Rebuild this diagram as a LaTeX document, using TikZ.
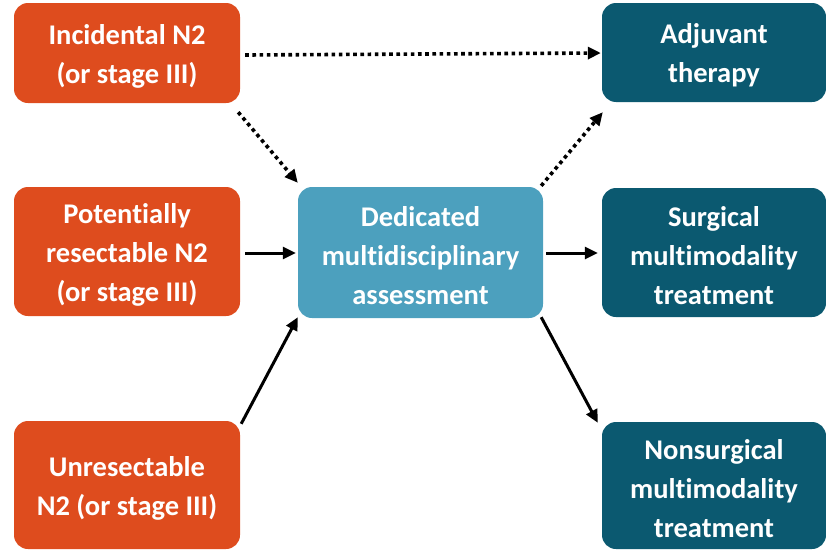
\documentclass[tikz,border=0pt]{standalone}
\usepackage{fontspec}
\setmainfont[Ligatures=NoCommon]{Carlito}
\usetikzlibrary{arrows.meta,calc}
\definecolor{orng}{RGB}{222,76,30}
\definecolor{dteal}{RGB}{11,89,112}
\definecolor{lblue}{RGB}{76,160,190}
\newcommand\topgap{\rule{0pt}{26pt}}
\tikzset{
  box/.style={rectangle, rounded corners=14pt, inner sep=0pt, align=center,
    text=white, font=\fontsize{28.5}{39}\selectfont\bfseries},
  srcbox/.style={box, fill=orng, minimum width=226pt},
  dstbox/.style={box, fill=dteal, minimum width=224pt},
  midbox/.style={box, fill=lblue, minimum width=245pt},
  solidarrow/.style={line width=3pt, -{Triangle[length=13pt,width=12pt]}},
  dotarrow/.style={line width=3.6pt, dash pattern=on 3.6pt off 3.6pt, -{Triangle[length=13pt,width=12pt]}},
}
\begin{document}
\begin{tikzpicture}[x=1pt,y=-1pt]
\useasboundingbox (0,0) rectangle (826,549);
\node[srcbox, minimum height=100pt] (inc) at (127,53) {\topgap Incidental N2\\(or stage III)};
\node[srcbox, minimum height=129pt] (pot) at (127,251.5) {\topgap Potentially\\resectable N2\\(or stage III)};
\node[srcbox, minimum height=128pt] (unr) at (127,485) {\topgap Unresectable\\N2 (or stage III)};
\node[midbox, minimum height=131pt] (ded) at (420.5,252.5) {\topgap Dedicated\\multidisciplinary\\assessment};
\node[dstbox, minimum height=99pt] (adj) at (714,52.5) {\topgap Adjuvant\\therapy};
\node[dstbox, minimum height=129pt] (sur) at (714,252.5) {\topgap Surgical\\multimodality\\treatment};
\node[dstbox, minimum height=127pt] (non) at (714,485.5) {\topgap Nonsurgical\\multimodality\\treatment};

\draw[dotarrow] ($(inc.east)+(5,2)$) -- ($(adj.west)+(-1,0.5)$);
\draw[dotarrow] ($(inc.south east)+(-2,9)$) -- ($(ded.north west)+(0,-4)$);
\draw[dotarrow] ($(ded.north east)+(-2,-1)$) -- ($(adj.south west)+(1,10)$);
\draw[solidarrow] ($(pot.east)+(5,1.5)$) -- ($(ded.west)+(-2,0.5)$);
\draw[solidarrow] ($(ded.east)+(3,0.5)$) -- ($(sur.west)+(-4,0.5)$);
\draw[solidarrow] ($(unr.north east)+(1,3)$) -- ($(ded.south west)+(0,-1)$);
\draw[solidarrow] ($(ded.south east)+(-2,-1)$) -- ($(non.north west)+(-4,1)$);
\end{tikzpicture}
\end{document}
